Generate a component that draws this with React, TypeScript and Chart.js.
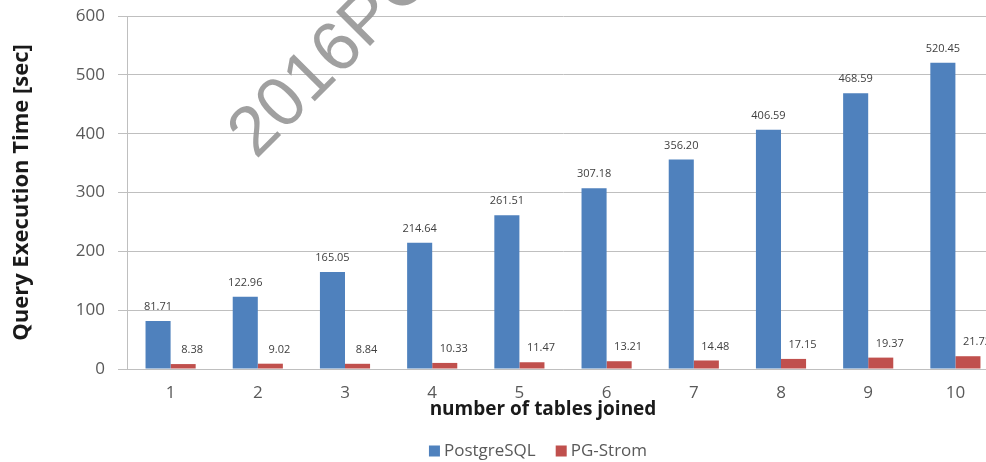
import React, { useEffect, useRef } from "react";
import { Chart, registerables } from "chart.js";

Chart.register(...registerables);

const categories = ["1", "2", "3", "4", "5", "6", "7", "8", "9", "10"];
const postgresValues = [81.71, 122.96, 165.05, 214.64, 261.51, 307.18, 356.2, 406.59, 468.59, 520.45];
const pgStromValues = [8.38, 9.02, 8.84, 10.33, 11.47, 13.21, 14.48, 17.15, 19.37, 21.72];
const seriesNames = ["PostgreSQL", "PG-Strom"];
const seriesColors = ["#4F81BD", "#C0504D"];
const yMin = 0;
const yMax = 600;
const yStep = 100;
const yTitle = "Query Execution Time [sec]";
const xTitle = "number of tables joined";
const watermark = "2016PGConf";

const FONT = "'Open Sans', 'DejaVu Sans', sans-serif";

const extrasPlugin = {
  id: "extras",
  afterDatasetsDraw(chart: any) {
    const ctx = chart.ctx;
    ctx.save();
    ctx.font = `11px ${FONT}`;
    ctx.fillStyle = "#404040";
    ctx.textAlign = "center";
    ctx.textBaseline = "middle";
    chart.data.datasets.forEach((ds: any, di: number) => {
      const meta = chart.getDatasetMeta(di);
      meta.data.forEach((bar: any, i: number) => {
        const v = ds.data[i] as number;
        const dx = di === 1 ? 9 : 0;
        ctx.fillText(v.toFixed(2), bar.x + dx, bar.y - 14);
      });
    });
    ctx.restore();
  },
  afterDraw(chart: any) {
    const ctx = chart.ctx;
    ctx.save();
    // x axis title
    ctx.font = `bold 19px ${FONT}`;
    ctx.fillStyle = "#1a1a1a";
    ctx.textAlign = "center";
    ctx.textBaseline = "middle";
    ctx.fillText(xTitle, 543, 410);

    // legend
    ctx.font = `17px ${FONT}`;
    const sq = 11;
    const gap = 4;
    const spacing = 20;
    const widths = seriesNames.map((n) => ctx.measureText(n).width);
    const total = widths.reduce((a, w) => a + sq + gap + w, 0) + spacing * (seriesNames.length - 1);
    let x = 538 - total / 2;
    const y = 451;
    ctx.textAlign = "left";
    seriesNames.forEach((n, i) => {
      ctx.fillStyle = seriesColors[i];
      ctx.fillRect(x, y - sq / 2, sq, sq);
      x += sq + gap;
      ctx.fillStyle = "#595959";
      ctx.fillText(n, x, y);
      x += widths[i] + spacing;
    });

    // watermark
    ctx.translate(256, 160);
    ctx.rotate((-45 * Math.PI) / 180);
    ctx.font = "70px 'Liberation Sans', Arial, sans-serif";
    ctx.fillStyle = "rgba(150,150,150,0.9)";
    ctx.textAlign = "left";
    ctx.textBaseline = "alphabetic";
    ctx.fillText(watermark, 0, 0);
    ctx.restore();
  },
};

export default function App() {
  const ref = useRef<HTMLCanvasElement>(null);
  useEffect(() => {
    const chart = new Chart(ref.current as HTMLCanvasElement, {
      type: "bar",
      data: {
        labels: categories,
        datasets: [
          {
            label: seriesNames[0],
            data: postgresValues,
            backgroundColor: seriesColors[0],
            barPercentage: 1,
            categoryPercentage: 0.575,
          },
          {
            label: seriesNames[1],
            data: pgStromValues,
            backgroundColor: seriesColors[1],
            barPercentage: 1,
            categoryPercentage: 0.575,
          },
        ],
      },
      options: {
        responsive: false,
        animation: false,
        layout: { padding: { top: 16, right: 1, left: 0, bottom: 0 } },
        plugins: {
          legend: { display: false },
          tooltip: { enabled: false },
        },
        scales: {
          x: {
            grid: { display: false, drawTicks: false },
            border: { display: true, color: "#BFBFBF", width: 1 },
            ticks: { font: { family: FONT, size: 17 }, color: "#595959", padding: 14 },
            afterFit: (s: any) => {
              s.height = 93;
            },
          },
          y: {
            min: yMin,
            max: yMax,
            ticks: { stepSize: yStep, font: { family: FONT, size: 17 }, color: "#595959", padding: 13 },
            grid: { color: "#BFBFBF", lineWidth: 1, tickLength: 9, drawTicks: true },
            border: { display: true, color: "#BFBFBF", width: 1 },
            title: {
              display: true,
              text: yTitle,
              font: { family: FONT, size: 22, weight: "bold" },
              color: "#1a1a1a",
              padding: { top: 9, bottom: 0 },
            },
            afterFit: (s: any) => {
              s.width = 127;
              s.paddingTop = 0;
              s.paddingBottom = 0;
            },
          },
        },
      },
      plugins: [extrasPlugin],
    } as any);
    return () => chart.destroy();
  }, []);
  return (
    <div
      style={{
        position: "fixed",
        left: 0,
        top: 0,
        width: 986,
        height: 462,
        overflow: "hidden",
        background: "#fff",
      }}
    >
      <canvas ref={ref} width={1000} height={462} style={{ width: 1000, height: 462, display: "block" }} />
    </div>
  );
}
